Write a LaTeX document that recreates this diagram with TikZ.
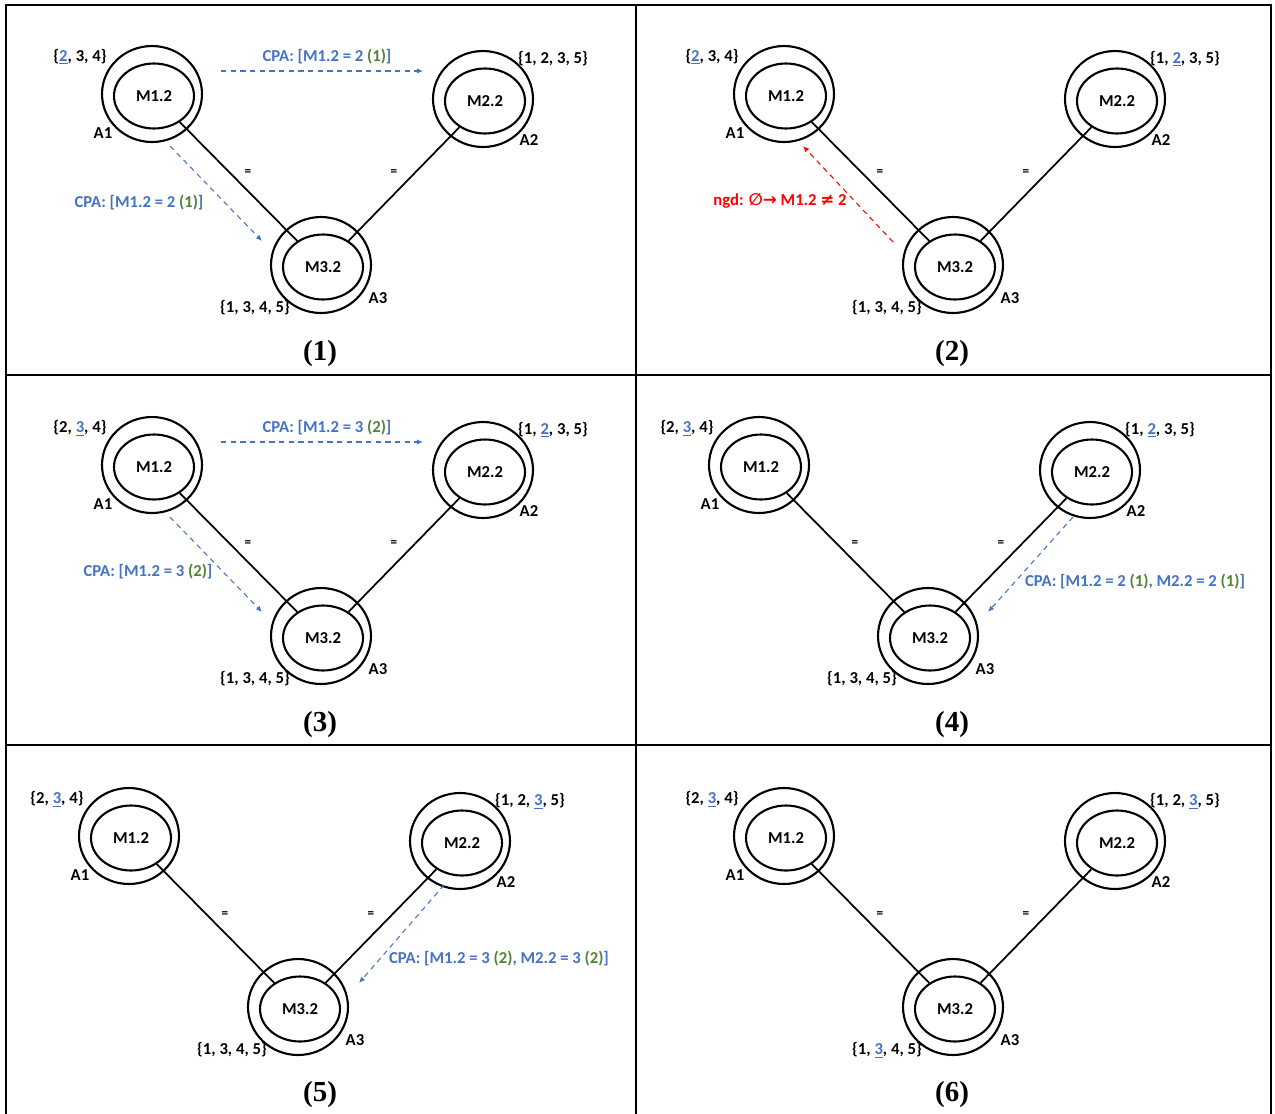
\documentclass[tikz,border=0pt]{standalone}
\usepackage{fontspec}
\setmainfont{Carlito}
\newfontfamily\titlefont{Liberation Serif}
\newfontfamily\glyphfont{DejaVu Sans}
\usepackage{tikz}
\usetikzlibrary{arrows.meta,shapes.geometric}

\definecolor{cpablue}{RGB}{68,114,196}
\definecolor{cpagreen}{RGB}{84,130,53}
\definecolor{ngdred}{RGB}{255,0,0}

\newcommand{\pick}[1]{\textcolor{cpablue}{\underline{#1}}}
\newcommand{\cnt}[1]{\textcolor{cpagreen}{#1}}

\tikzset{
    every node/.style={align=center, font=\fontsize{9.5}{11}\selectfont\bfseries,},
    agent/.style={draw, ellipse, line width=1.2pt, minimum width=2cm, minimum height=1.92cm, inner sep=0pt,},
    var/.style={draw, ellipse, line width=1.2pt, minimum width=1.6cm, minimum height=1.3cm, inner sep=0pt,},
    link/.style={line width=1pt,},
    eq/.style={font=\fontsize{7.5}{8}\selectfont\bfseries,},
    cpa/.style={draw=cpablue, line width=0.6pt, dash pattern=on 3pt off 2.5pt, -{Latex[length=3.5pt,width=3pt]},},
    ngd/.style={cpa, draw=ngdred,},
    msg/.style={text=cpablue,},
    paneltitle/.style={font=\fontsize{16.5}{18}\selectfont\titlefont\bfseries,},
}

% three agents of one panel, placed relative to M1.2
% #1 prefix, #2-#4 domains of A1, A2, A3
\newcommand{\agents}[4]{%
    \node[agent] (#1_a1) at (0,0) {};
    \node[agent] (#1_a2) at (331,5) {};
    \node[agent] (#1_a3) at (169,171) {};
    \node[var] (#1_m1) at (2,2) {M1.2};
    \node[var] (#1_m2) at (333,7) {M2.2};
    \node[var] (#1_m3) at (171,173) {M3.2};
    \node (#1_d1) at (-72,-37) {#2};
    \node (#1_d2) at (401,-35) {#3};
    \node (#1_d3) at (103,214) {#4};
    \node (#1_l1) at (-49,39) {A1};
    \node (#1_l2) at (377,46) {A2};
    \node (#1_l3) at (226,204) {A3};
    \draw[link] (#1_m1) -- (#1_m3);
    \draw[link] (#1_m2) -- (#1_m3);
    \node[eq] (#1_eq1) at (96,79) {=};
    \node[eq] (#1_eq2) at (242,79) {=};
}

\begin{document}
\begin{tikzpicture}[x=0.02cm, y=-0.02cm]
    \useasboundingbox (0,0) rectangle (1275,1113);

    % frame and grid
    \draw[line width=0.8pt] (6,1120) -- (6,5) -- (1271,5) -- (1271,1120);
    \draw[line width=0.8pt] (636,5) -- (636,1120);
    \draw[line width=0.8pt] (6,375) -- (1271,375);
    \draw[line width=0.8pt] (6,745) -- (1271,745);

    % (1)
    \begin{scope}[shift={(152,94)}]
        \agents{p1}{\{\pick{2}, 3, 4\}}{\{1, 2, 3, 5\}}{\{1, 3, 4, 5\}}
        \coordinate (p1_h0) at (69,-23);
        \coordinate (p1_h1) at (271,-23);
        \coordinate (p1_v0) at (18,52);
        \coordinate (p1_v1) at (110,147);
        \draw[cpa] (p1_h0) -- (p1_h1);
        \draw[cpa] (p1_v0) -- (p1_v1);
        \node[msg] (p1_cpa_h) at (175,-37) {CPA: [M1.2 = 2 \cnt{(1)}]};
        \node[msg] (p1_cpa_v) at (-13,109) {CPA: [M1.2 = 2 \cnt{(1)}]};
    \end{scope}

    % (2)
    \begin{scope}[shift={(784,94)}]
        \agents{p2}{\{\pick{2}, 3, 4\}}{\{1, \pick{2}, 3, 5\}}{\{1, 3, 4, 5\}}
        \coordinate (p2_v0) at (109,148);
        \coordinate (p2_v1) at (19,52);
        \draw[ngd] (p2_v0) -- (p2_v1);
        \node[text=ngdred] (p2_ngd) at (-4,107) {ngd: {\glyphfont ∅→} M1.2 {\glyphfont ≠} 2};
    \end{scope}

    % (3)
    \begin{scope}[shift={(152,465)}]
        \agents{p3}{\{2, \pick{3}, 4\}}{\{1, \pick{2}, 3, 5\}}{\{1, 3, 4, 5\}}
        \coordinate (p3_h0) at (69,-23);
        \coordinate (p3_h1) at (271,-23);
        \coordinate (p3_v0) at (18,52);
        \coordinate (p3_v1) at (110,147);
        \draw[cpa] (p3_h0) -- (p3_h1);
        \draw[cpa] (p3_v0) -- (p3_v1);
        \node[msg] (p3_cpa_h) at (175,-37) {CPA: [M1.2 = 3 \cnt{(2)}]};
        \node[msg] (p3_cpa_v) at (-4,107) {CPA: [M1.2 = 3 \cnt{(2)}]};
    \end{scope}

    % (4)
    \begin{scope}[shift={(759,465)}]
        \agents{p4}{\{2, \pick{3}, 4\}}{\{1, \pick{2}, 3, 5\}}{\{1, 3, 4, 5\}}
        \coordinate (p4_v0) at (314,52);
        \coordinate (p4_v1) at (229,147);
        \draw[cpa] (p4_v0) -- (p4_v1);
        \node[msg] (p4_cpa) at (376,117) {CPA: [M1.2 = 2 \cnt{(1)}, M2.2 = 2 \cnt{(1)}]};
    \end{scope}

    % (5)
    \begin{scope}[shift={(129,836)}]
        \agents{p5}{\{2, \pick{3}, 4\}}{\{1, 2, \pick{3}, 5\}}{\{1, 3, 4, 5\}}
        \coordinate (p5_v0) at (315,49);
        \coordinate (p5_v1) at (230,147);
        \draw[cpa] (p5_v0) -- (p5_v1);
        \node[msg] (p5_cpa) at (370,123) {CPA: [M1.2 = 3 \cnt{(2)}, M2.2 = 3 \cnt{(2)}]};
    \end{scope}

    % (6)
    \begin{scope}[shift={(784,836)}]
        \agents{p6}{\{2, \pick{3}, 4\}}{\{1, 2, \pick{3}, 5\}}{\{1, \pick{3}, 4, 5\}}
    \end{scope}

    % panel numbers
    \node[paneltitle] (t1) at (320,354) {(1)};
    \node[paneltitle] (t2) at (952,354) {(2)};
    \node[paneltitle] (t3) at (320,725) {(3)};
    \node[paneltitle] (t4) at (952,725) {(4)};
    \node[paneltitle] (t5) at (320,1095) {(5)};
    \node[paneltitle] (t6) at (952,1095) {(6)};
\end{tikzpicture}
\end{document}
